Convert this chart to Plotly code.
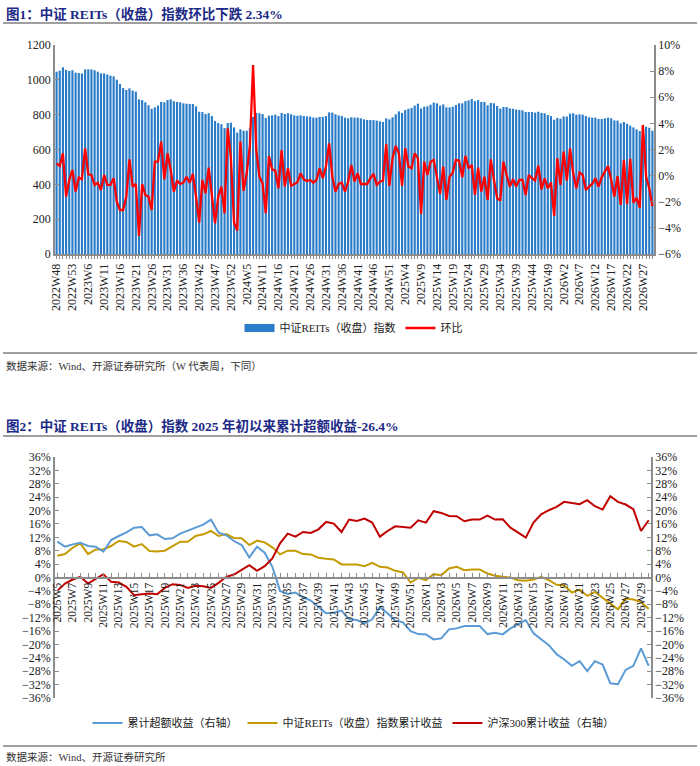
import plotly.graph_objects as go

# ---- data: figure 1 (weekly close of CSI REITs index and week-on-week change) ----
weeks_top = ([f"2022W{w}" for w in range(48, 54)]
             + [f"2023W{w}" for w in range(1, 53) if w not in (4, 40)]
             + [f"2024W{w}" for w in range(1, 53) if w != 7]
             + [f"2025W{w}" for w in range(1, 53)]
             + [f"2026W{w}" for w in range(1, 31)])

index_close = [
    1047, 1053, 1072, 1057, 1051, 1055, 1041, 1039, 1037, 1060,
    1060, 1060, 1055, 1047, 1037, 1037, 1030, 1024, 1020, 1001,
    976, 953, 942, 951, 938, 932, 888, 884, 871, 854,
    834, 842, 852, 873, 871, 884, 888, 877, 873, 871,
    865, 863, 861, 861, 848, 817, 815, 804, 808, 792,
    764, 752, 745, 723, 752, 754, 727, 697, 716, 708,
    708, 722, 787, 810, 808, 804, 781, 794, 796, 800,
    792, 810, 804, 808, 802, 796, 794, 796, 792, 790,
    789, 783, 783, 787, 787, 792, 813, 812, 802, 796,
    792, 783, 779, 785, 783, 783, 779, 773, 769, 769,
    769, 766, 762, 758, 779, 773, 785, 802, 819, 810,
    827, 834, 838, 852, 863, 836, 846, 848, 857, 869,
    865, 852, 859, 842, 842, 846, 855, 865, 865, 878,
    882, 890, 878, 884, 873, 873, 854, 867, 865, 850,
    835, 844, 844, 836, 834, 829, 827, 825, 815, 815,
    815, 812, 817, 810, 808, 798, 792, 771, 781, 777,
    790, 789, 806, 808, 800, 802, 800, 792, 785, 783,
    783, 775, 775, 779, 783, 779, 767, 766, 750, 758,
    748, 737, 727, 716, 706, 733, 731, 725, 708,
]

wow_pct = [
    0.94, 0.74, 1.71, -1.61, -0.33, 0.43, -1.22, -0.15, -0.28, 2.09,
    0.10, 0.05, -0.71, -0.54, -1.10, 0.05, -0.71, -0.71, -0.20, -1.99,
    -2.63, -2.63, -1.61, 1.25, -0.84, -0.64, -4.62, -0.64, -1.48, -1.61,
    -2.63, 1.07, 1.07, 2.60, -0.28, 1.71, 0.43, -1.22, -0.38, -0.64,
    -0.54, -0.08, -0.54, 0.13, -1.61, -3.60, -0.33, -1.35, 0.61, -1.61,
    -3.65, -1.61, -0.84, -2.88, 3.62, 1.33, -3.60, -4.21, 2.60, -1.17,
    0.20, 2.30, 8.47, 2.00, -0.08, -0.60, -2.88, 1.50, 0.48, 0.38,
    -0.97, 1.96, -0.84, 0.56, -0.77, -0.64, -0.51, 0.18, -0.28, -0.41,
    -0.33, -0.54, -0.33, 0.56, -0.20, 0.69, 2.47, -0.08, -1.22, -0.64,
    -0.54, -1.22, -0.46, 0.82, -0.46, 0.18, -0.64, -0.64, -0.64, -0.20,
    0.13, -0.71, -0.46, -0.38, 2.42, -0.79, 1.33, 2.27, 1.71, -0.79,
    2.09, 0.69, 0.56, 1.71, 1.33, -2.93, 1.07, 0.05, 1.07, 1.20,
    -0.03, -1.40, 0.69, -1.86, -0.08, 0.23, 1.20, 1.15, -0.13, 1.51,
    0.56, 0.82, -1.48, 0.61, -1.22, -0.08, -1.86, 1.25, -0.33, -1.73,
    -1.91, 1.07, 0.05, -0.84, -0.28, -0.84, -0.33, -0.33, -1.48, 0.05,
    -0.20, -0.38, 0.77, -1.05, -0.20, -0.97, -0.54, -3.09, 1.33, -0.71,
    1.84, -0.38, 2.09, 0.18, -0.97, 0.23, 0.05, -1.10, -0.84, -0.64,
    -0.20, -0.84, -0.13, 0.31, 0.74, -0.33, -1.61, -0.03, -2.24, 1.20,
    -2.19, 1.28, -2.07, -1.71, -2.45, 3.88, -0.08, -0.97, -2.34,
]

# ---- data: figure 2 (cumulative returns since start of 2025, %) ----
weeks_bottom = ([f"2025W{w}" for w in range(5, 53)]
                + [f"2026W{w}" for w in range(1, 31)])

excess_cum = [
    10.7, 9.2, 9.9, 10.4, 9.4, 9.2, 7.7, 11.2, 12.4, 13.5,
    14.9, 15.1, 12.6, 12.9, 11.5, 11.7, 13.1, 14.1, 14.9, 15.8,
    17.3, 13.4, 12.6, 10.9, 9.7, 6.0, 9.2, 7.4, 3.2, -4.0,
    -4.9, -4.5, -5.9, -6.9, -8.7, -10.7, -10.5, -9.9, -12.5, -12.7,
    -13.7, -12.5, -8.8, -10.7, -12.9, -13.4, -16.0, -16.9, -17.0, -18.5,
    -18.2, -15.5, -15.2, -14.5, -14.5, -14.5, -16.9, -16.5, -17.0, -15.2,
    -14.0, -12.7, -16.7, -18.4, -20.2, -22.9, -24.5, -26.4, -25.0, -28.0,
    -25.0, -26.0, -31.6, -31.9, -27.6, -26.4, -21.2, -26.4,
]

reits_cum = [
    6.5, 7.0, 8.9, 10.2, 7.0, 8.4, 8.4, 9.4, 10.9, 10.6,
    9.2, 10.0, 7.9, 7.8, 8.0, 9.4, 10.7, 10.7, 12.4, 12.9,
    13.9, 12.4, 13.0, 11.8, 11.7, 9.7, 11.0, 10.5, 9.0, 6.9,
    8.0, 8.0, 7.0, 6.9, 5.9, 5.6, 5.4, 3.9, 4.0, 3.9,
    3.4, 4.4, 3.2, 3.0, 2.0, 1.5, -1.5, -0.1, -0.8, 1.0,
    0.7, 2.7, 3.2, 2.2, 2.4, 2.4, 1.2, 0.5, 0.2, 0.0,
    -0.8, -1.0, -0.6, 0.2, -0.8, -2.2, -2.4, -4.5, -3.6, -5.5,
    -4.3, -6.0, -7.6, -9.5, -6.3, -6.6, -7.3, -9.4,
]

hs300_cum = [
    -4.0, -1.8, -0.6, 0.2, -1.8, -0.3, 1.0, -1.3, -1.5, -2.8,
    -5.3, -5.0, -4.8, -5.0, -3.1, -2.0, -2.2, -3.1, -2.5, -2.6,
    -3.1, -1.6, 0.2, 0.9, 2.2, 3.7, 2.0, 3.4, 5.7, 10.2,
    13.1, 12.2, 13.6, 13.3, 14.4, 16.6, 16.1, 13.6, 17.3, 16.9,
    17.6, 16.4, 12.2, 13.9, 15.3, 15.2, 14.9, 17.1, 16.4, 19.8,
    19.3, 18.4, 18.3, 16.8, 17.3, 17.3, 18.5, 17.3, 17.4, 14.9,
    13.3, 11.9, 16.4, 18.9, 20.1, 21.1, 22.6, 22.3, 21.9, 23.1,
    21.3, 20.3, 24.3, 22.6, 21.8, 20.4, 13.9, 17.1,
]

# ---- page geometry (pixels of a 700 x 766 page) ----
W, H = 700, 766


def px(x):
    return x / W


def py(y):
    return 1 - y / H


FONT = "Liberation Serif, Noto Sans CJK SC, serif"
AXIS_GREY = "#8c8c8c"
TITLE_BLUE = "#1c2a86"
BAR_BLUE = "#2a7cc9"

top_ticktext = [w if i % 5 == 0 else "" for i, w in enumerate(weeks_top)]
bottom_ticktext = [w if i % 2 == 0 else "" for i, w in enumerate(weeks_bottom)]

fig = go.Figure()

# figure 1
fig.add_trace(go.Bar(
    x=weeks_top, y=index_close, name="中证REITs（收盘）指数",
    marker=dict(color=BAR_BLUE, line=dict(width=0)),
    xaxis="x", yaxis="y", showlegend=False,
))
# legend-only entry so the bar swatch is a wide block like the original
fig.add_trace(go.Scatter(
    x=[None], y=[None], name="中证REITs（收盘）指数", mode="lines",
    line=dict(color=BAR_BLUE, width=8),
    xaxis="x", yaxis="y", legend="legend",
))
fig.add_trace(go.Scatter(
    x=weeks_top, y=wow_pct, name="环比", mode="lines",
    line=dict(color="#ff0000", width=2.3),
    xaxis="x", yaxis="y2", legend="legend",
))

# figure 2
fig.add_trace(go.Scatter(
    x=weeks_bottom, y=excess_cum, name="累计超额收益（右轴）", mode="lines",
    line=dict(color="#5b9bd5", width=2),
    xaxis="x2", yaxis="y4", legend="legend2",
))
fig.add_trace(go.Scatter(
    x=weeks_bottom, y=reits_cum, name="中证REITs（收盘）指数累计收益", mode="lines",
    line=dict(color="#c49a00", width=2),
    xaxis="x2", yaxis="y3", legend="legend2",
))
fig.add_trace(go.Scatter(
    x=weeks_bottom, y=hs300_cum, name="沪深300累计收益（右轴）", mode="lines",
    line=dict(color="#c00000", width=2),
    xaxis="x2", yaxis="y4", legend="legend2",
))

y3_dom = [py(698), py(457)]

fig.update_layout(
    width=W, height=H,
    margin=dict(l=0, r=0, t=0, b=0, autoexpand=False),
    paper_bgcolor="white", plot_bgcolor="white",
    font=dict(family=FONT, size=12, color="#222"),
    bargap=0.32,
    showlegend=True,
    xaxis=dict(
        domain=[px(55), px(654)], anchor="y", type="category", automargin=False,
        tickmode="array", tickvals=weeks_top, ticktext=top_ticktext,
        tickangle=-90, ticks="outside", ticklen=3, tickcolor=AXIS_GREY,
        showline=True, linecolor=AXIS_GREY, linewidth=2,
        showgrid=False, tickfont=dict(size=12),
    ),
    yaxis=dict(
        domain=[py(254), py(45)], anchor="x", range=[0, 1200], dtick=200,
        automargin=False,
        showline=True, linecolor=AXIS_GREY, linewidth=1.5,
        ticks="inside", ticklen=4, tickcolor=AXIS_GREY,
        showgrid=False, zeroline=False, tickfont=dict(size=12),
    ),
    yaxis2=dict(
        overlaying="y", side="right", anchor="x", range=[-6, 10], dtick=2,
        automargin=False,
        ticksuffix="%", showline=True, linecolor=AXIS_GREY, linewidth=1.5,
        ticks="inside", ticklen=4, tickcolor=AXIS_GREY,
        showgrid=False, zeroline=False, tickfont=dict(size=12),
    ),
    xaxis2=dict(
        domain=[px(55), px(651)], anchor="free", automargin=False,
        position=(y3_dom[0] + y3_dom[1]) / 2, type="category",
        tickmode="array", tickvals=weeks_bottom, ticktext=bottom_ticktext,
        tickangle=-90, ticks="inside", ticklen=4, tickcolor=AXIS_GREY,
        showline=True, linecolor=AXIS_GREY, linewidth=1.5,
        showgrid=False, tickfont=dict(size=11.5),
        range=[-0.3, len(weeks_bottom) - 0.7],
    ),
    yaxis3=dict(
        domain=y3_dom, anchor="x2", range=[-36, 36], dtick=4, automargin=False,
        ticksuffix="%", showline=True, linecolor=AXIS_GREY, linewidth=1.5,
        ticks="inside", ticklen=4, tickcolor=AXIS_GREY,
        showgrid=False, zeroline=False, tickfont=dict(size=12),
    ),
    yaxis4=dict(
        overlaying="y3", side="right", anchor="x2", range=[-36, 36], dtick=4,
        automargin=False,
        ticksuffix="%", showline=True, linecolor=AXIS_GREY, linewidth=1.5,
        ticks="inside", ticklen=4, tickcolor=AXIS_GREY,
        showgrid=False, zeroline=False, tickfont=dict(size=12),
    ),
    legend=dict(
        orientation="h", x=0.505, xanchor="center", y=py(328), yanchor="middle",
        font=dict(size=11), bgcolor="rgba(0,0,0,0)", itemwidth=30,
    ),
    legend2=dict(
        orientation="h", x=0.505, xanchor="center", y=py(723), yanchor="middle",
        font=dict(size=11), bgcolor="rgba(0,0,0,0)", itemwidth=30,
    ),
)

# titles and source notes
notes = [
    ("<b>图1：中证 REITs（收盘）指数环比下跌 2.34%</b>", 14, 13.5, TITLE_BLUE),
    ("数据来源：Wind、开源证券研究所（W 代表周，下同）", 366, 10.5, "#333"),
    ("<b>图2：中证 REITs（收盘）指数 2025 年初以来累计超额收益-26.4%</b>", 426, 13.5, TITLE_BLUE),
    ("数据来源：Wind、开源证券研究所", 757, 10.5, "#333"),
]
for text, y, size, color in notes:
    fig.add_annotation(
        text=text, x=px(4), y=py(y), xref="paper", yref="paper",
        xanchor="left", yanchor="middle", showarrow=False,
        font=dict(size=size, color=color, family=FONT),
    )

# horizontal rules
for y in (23, 353, 436, 746):
    fig.add_shape(
        type="line", xref="paper", yref="paper",
        x0=px(3), x1=px(697), y0=py(y), y1=py(y),
        line=dict(color="#7f7f7f", width=1.5),
    )

# drop the browser's default body margin so the 700x766 figure fills the window
fig.write_html(
    "out.html",
    config={"displayModeBar": False},
    post_script="document.body.style.margin='0';"
                "document.documentElement.style.overflow='hidden';",
)
